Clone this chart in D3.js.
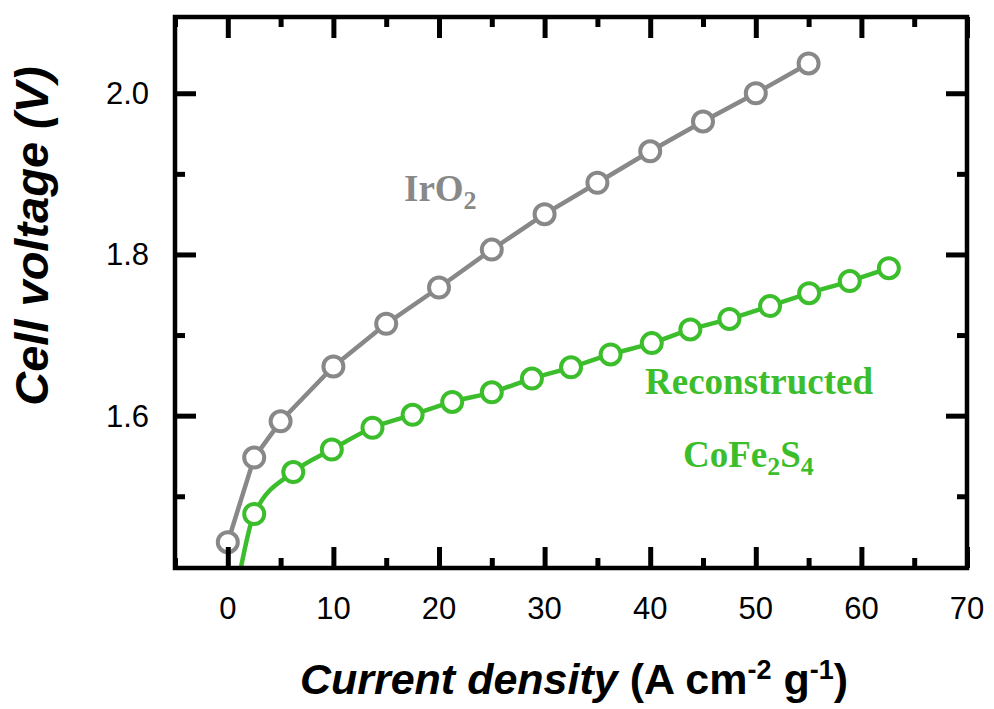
<!DOCTYPE html>
<html>
<head>
<meta charset="utf-8">
<script src="https://cdn.jsdelivr.net/npm/d3@7/dist/d3.min.js"></script>
<style>
  html, body { margin: 0; padding: 0; background: #fff; }
  svg { display: block; }
</style>
</head>
<body>
<svg id="chart" width="994" height="709"></svg>
<script>
// Polarization data (two-electrode cell)
const irCurrent = [0, 2.5, 5, 10, 15, 20, 25, 30, 35, 40, 45, 50, 55];
const irVoltage = [1.443, 1.548, 1.593, 1.661, 1.714, 1.759, 1.806, 1.850, 1.889, 1.928, 1.965, 2.000, 2.037];

const cfsCurrent = [2.5, 6.2, 9.85, 13.7, 17.5, 21.25, 25.0, 28.8, 32.5, 36.25, 40.15, 43.8, 47.5, 51.35, 55.05, 58.9, 62.6];
const cfsVoltage = [1.478, 1.530, 1.558, 1.585, 1.601, 1.617, 1.629, 1.646, 1.660, 1.676, 1.690, 1.707, 1.720, 1.736, 1.752, 1.767, 1.783];
// onset of the fitted CoFe2S4 curve (line only, no marker)
const cfsOnset = [1.0, 1.395];

const xMajorTicks = [0, 10, 20, 30, 40, 50, 60, 70];
const xMinorTicks = [-5, 5, 15, 25, 35, 45, 55, 65];
const yMajorTicks = [1.6, 1.8, 2.0];
const yMinorTicks = [1.5, 1.7, 1.9];

const grey = "#888888";
const green = "#3cbe2c";

const svg = d3.select("#chart");
const L = 175, R = 967, T = 17, B = 568;

const x = d3.scaleLinear().domain([-5, 70]).range([L, R]);
const y = d3.scaleLinear().domain([1.411, 2.0946]).range([B, T]);

// clip for the data
svg.append("defs").append("clipPath").attr("id", "plotClip")
  .append("rect").attr("x", L).attr("y", T).attr("width", R - L).attr("height", B - T);

const plot = svg.append("g").attr("clip-path", "url(#plotClip)");

const irData = irCurrent.map((c, i) => ({ c, v: irVoltage[i] }));
const cfsData = cfsCurrent.map((c, i) => ({ c, v: cfsVoltage[i] }));
const cfsLineData = [{ c: cfsOnset[0], v: cfsOnset[1] }].concat(cfsData);

const lineLinear = d3.line().x(d => x(d.c)).y(d => y(d.v));
const lineSmooth = d3.line().x(d => x(d.c)).y(d => y(d.v)).curve(d3.curveMonotoneX);

plot.append("path").datum(irData)
  .attr("d", lineLinear).attr("fill", "none")
  .attr("stroke", grey).attr("stroke-width", 4.5).attr("stroke-linejoin", "round");

plot.append("path").datum(cfsLineData)
  .attr("d", lineSmooth).attr("fill", "none")
  .attr("stroke", green).attr("stroke-width", 4.5).attr("stroke-linejoin", "round");

function drawMarkers(data, color) {
  svg.append("g").selectAll("circle").data(data).join("circle")
    .attr("cx", d => x(d.c)).attr("cy", d => y(d.v)).attr("r", 10)
    .attr("fill", "#fff").attr("stroke", color).attr("stroke-width", 4);
}
drawMarkers(irData, grey);
drawMarkers(cfsData, green);

// Frame with inward ticks on all four sides
const axisW = 4.5;
const majorLen = 21, minorLen = 10;

function tickAxis(axisGen, transform, ticks, len) {
  const g = svg.append("g").attr("transform", transform)
    .call(axisGen.tickValues(ticks).tickSize(len).tickFormat(""));
  g.select(".domain").remove();
  g.selectAll(".tick line").attr("stroke", "#000").attr("stroke-width", 5);
  return g;
}
// bottom / top (ticks point inward)
tickAxis(d3.axisTop(x), `translate(0,${B})`, xMajorTicks, majorLen);
tickAxis(d3.axisTop(x), `translate(0,${B})`, xMinorTicks, minorLen);
tickAxis(d3.axisBottom(x), `translate(0,${T})`, xMajorTicks, majorLen);
tickAxis(d3.axisBottom(x), `translate(0,${T})`, xMinorTicks, minorLen);
// left / right
tickAxis(d3.axisRight(y), `translate(${L},0)`, yMajorTicks, majorLen);
tickAxis(d3.axisRight(y), `translate(${L},0)`, yMinorTicks, minorLen);
tickAxis(d3.axisLeft(y), `translate(${R},0)`, yMajorTicks, majorLen);
tickAxis(d3.axisLeft(y), `translate(${R},0)`, yMinorTicks, minorLen);

svg.append("rect").attr("x", L).attr("y", T).attr("width", R - L).attr("height", B - T)
  .attr("fill", "none").attr("stroke", "#000").attr("stroke-width", axisW);

// tick labels
const tickFont = "'Liberation Sans', Arial, sans-serif";
svg.append("g").selectAll("text").data(xMajorTicks).join("text")
  .attr("x", d => x(d)).attr("y", 619)
  .attr("text-anchor", "middle").attr("font-family", tickFont).attr("font-size", 31)
  .attr("fill", "#000").text(d => d);

svg.append("g").selectAll("text").data(yMajorTicks).join("text")
  .attr("x", 149).attr("y", d => y(d) + 11)
  .attr("text-anchor", "end").attr("font-family", tickFont).attr("font-size", 31)
  .attr("fill", "#000").text(d => d3.format(".1f")(d));

// axis titles
const xt = svg.append("text").attr("x", 574).attr("y", 694)
  .attr("text-anchor", "middle").attr("font-family", tickFont)
  .attr("font-size", 43).attr("font-weight", "bold").attr("fill", "#000");
xt.append("tspan").attr("font-style", "italic").text("Current density");
xt.append("tspan").text(" (A cm");
xt.append("tspan").attr("font-size", 27).attr("dy", -15).text("-2");
xt.append("tspan").attr("dy", 15).text(" g");
xt.append("tspan").attr("font-size", 27).attr("dy", -15).text("-1");
xt.append("tspan").attr("dy", 15).text(")");

svg.append("text")
  .attr("transform", "translate(48,236) rotate(-90)")
  .attr("text-anchor", "middle").attr("font-family", tickFont)
  .attr("font-size", 47).attr("font-weight", "bold").attr("font-style", "italic")
  .attr("fill", "#000").text("Cell voltage (V)");

// series labels
const serif = "'Liberation Serif', 'Times New Roman', serif";
const irLabel = svg.append("text").attr("x", 404).attr("y", 201)
  .attr("font-family", serif).attr("font-size", 37).attr("font-weight", "bold").attr("fill", grey);
irLabel.append("tspan").text("IrO");
irLabel.append("tspan").attr("font-size", 26).attr("dy", 8).text("2");

svg.append("text").attr("x", 645).attr("y", 394)
  .attr("font-family", serif).attr("font-size", 37).attr("font-weight", "bold").attr("fill", green)
  .text("Reconstructed");

const cfsLabel = svg.append("text").attr("x", 683).attr("y", 467)
  .attr("font-family", serif).attr("font-size", 37).attr("font-weight", "bold").attr("fill", green);
cfsLabel.append("tspan").text("CoFe");
cfsLabel.append("tspan").attr("font-size", 26).attr("dy", 8).text("2");
cfsLabel.append("tspan").attr("dy", -8).text("S");
cfsLabel.append("tspan").attr("font-size", 26).attr("dy", 8).text("4");
</script>
</body>
</html>
